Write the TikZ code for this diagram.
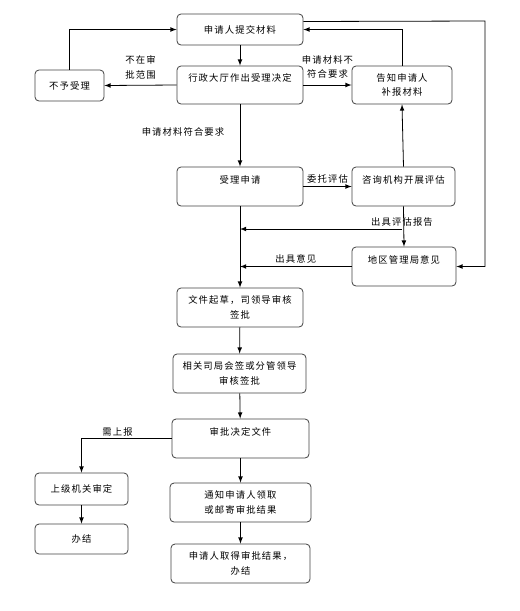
\documentclass[tikz,border=0pt]{standalone}
\usepackage{fontspec}
\setmainfont{Noto Sans CJK SC}[LetterSpace=12]
\usetikzlibrary{arrows,positioning,calc}

\tikzset{
  box/.style={draw=black!75, line width=0.6pt, rounded corners=3pt, align=center,
    inner sep=1pt, font=\fontsize{7}{11}\selectfont},
  flow/.style={->, >=latex, line width=0.6pt},
  note/.style={font=\fontsize{7}{11}\selectfont, align=center, inner sep=1.5pt},
}

\begin{document}
\begin{tikzpicture}[x=0.75pt,y=-0.75pt]
  \useasboundingbox (0,0) rectangle (520,611);

  % 受理阶段
  \node[box, minimum width=94.5pt, minimum height=23.25pt] (submit) at (240,29.5) {申请人提交材料};
  \node[box, minimum width=51.75pt, minimum height=23.25pt] (reject) at (69.5,85.5) {不予受理};
  \node[box, minimum width=94.5pt, minimum height=28.5pt] (hall) at (240,85) {行政大厅作出受理决定\\\mbox{}};
  \node[box, minimum width=75pt, minimum height=28.5pt] (notify) at (402,85) {告知申请人\\补报材料};

  % 评估阶段
  \node[box, minimum width=94.5pt, minimum height=29.25pt] (accept) at (240,186.5) {受理申请\\\mbox{}};
  \node[box, minimum width=77.25pt, minimum height=29.25pt] (consult) at (403.5,186.5) {咨询机构开展评估\\\mbox{}};
  \node[box, minimum width=78pt, minimum height=29.25pt] (region) at (404,266.5) {地区管理局意见\\\mbox{}};

  % 审批阶段
  \node[box, minimum width=94.5pt, minimum height=29.25pt] (draft) at (240,307.5) {文件起草，司领导审核\\签批};
  \node[box, minimum width=99.75pt, minimum height=29.25pt] (cosign) at (239.5,373.5) {相关司局会签或分管领导\\审核签批};
  \node[box, minimum width=102.75pt, minimum height=29.25pt] (decide) at (240.5,438.5) {审批决定文件\\\mbox{}};
  \node[box, minimum width=69.75pt, minimum height=24pt] (upper) at (81.5,489) {上级机关审定};
  \node[box, minimum width=69.75pt, minimum height=22.5pt] (done) at (81.5,539) {办结};
  \node[box, minimum width=105.75pt, minimum height=29.25pt] (inform) at (240.5,502.5) {通知申请人领取\\或邮寄审批结果};
  \node[box, minimum width=104.25pt, minimum height=29.25pt] (final) at (240.5,563.5) {申请人取得审批结果，\\办结};

  % 连线
  \draw[flow] (submit) -- (hall);
  \draw[flow] (hall.west) -- (reject.east)
    node[note, midway, above=3pt] (outscope) {不在审\\批范围};
  \draw[flow] (reject.north) |- (submit.west);
  \draw[flow] (hall.east) -- (notify.west)
    node[note, midway, above=3pt] (notok) {申请材料不\\符合要求};
  \draw[flow] (notify.north) |- (submit.east);
  \coordinate (back) at (485,21);
  \draw[flow] ([yshift=6pt]submit.east) -- (back) |- (region.east);
  \draw[flow] (hall.south) -- (accept.north)
    node[note, pos=0.45, left=10pt] (isok) {申请材料符合要求};
  \draw[flow] (accept.east) -- (consult.west)
    node[note, midway, above=1pt] (entrust) {委托评估};
  \draw[flow] (consult.north) -- (notify.south);
  \draw[flow] (consult.south) -- (region.north);
  \coordinate (report) at (402,229);
  \draw[flow] (report) -- (accept.south |- report);
  \node[note, above] (reportlbl) at (report) {出具评估报告};
  \draw[flow] (region.west) -- (accept.south |- region.west)
    node[note, midway, above=1pt] (opinion) {出具意见};
  \draw[flow] (accept.south) -- (draft.north);
  \draw[flow] (draft) -- (cosign);
  \draw[flow] (cosign) -- (decide);
  \draw[flow] (decide.west) -| (upper.north)
    node[note, pos=0.3, above] (needup) {需上报};
  \draw[flow] (upper) -- (done);
  \draw[flow] (decide) -- (inform);
  \draw[flow] (inform) -- (final);
\end{tikzpicture}
\end{document}
